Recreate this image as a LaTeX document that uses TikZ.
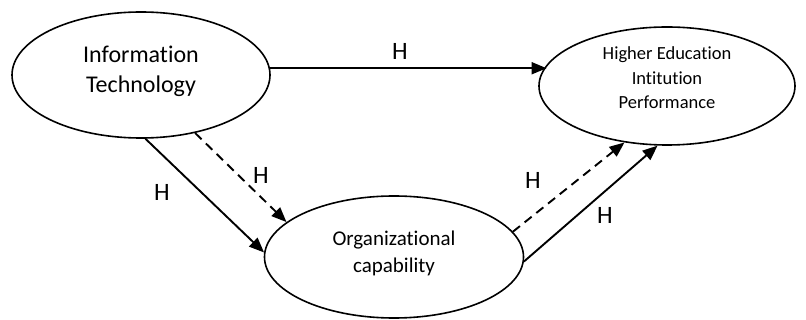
\documentclass[tikz,border=0pt]{standalone}
\usepackage{fontspec}
\setmainfont{Carlito}[Ligatures=NoCommon]
\usetikzlibrary{shapes.geometric,arrows.meta}
\begin{document}
\begin{tikzpicture}[x=1pt,y=-1pt,
  oval/.style={draw,ellipse,line width=1.6pt,inner sep=0pt},
  txt/.style={align=center,inner sep=0pt},
  link/.style={line width=1.9pt,-{Triangle[length=15pt,width=12pt]}},
  dlink/.style={link,dash pattern=on 9pt off 6pt},
  hlab/.style={font=\fontsize{25}{28}\selectfont}]
\useasboundingbox (0,0) rectangle (806,320);
\node[oval,minimum width=258pt,minimum height=126pt] (it) at (141,75) {};
\node[oval,minimum width=256pt,minimum height=118pt] (heip) at (667,86) {};
\node[oval,minimum width=259pt,minimum height=122pt] (oc) at (394,257) {};
\node[txt,font=\fontsize{24}{30}\selectfont] (itx) at (141,71) {Information\\Technology};
\node[txt,font=\fontsize{18.5}{24.5}\selectfont] (heipx) at (667,78) {Higher Education\\Intitution\\Performance};
\node[txt,font=\fontsize{21}{27}\selectfont] (ocx) at (394,253) {Organizational\\capability};
\draw[link] (it.3) -- (it.3 -| heip.170);
\draw[link] (it.-86) -- (oc.178);
\draw[dlink] (it.-47) -- (oc.162);
\draw[dlink] (oc.12) -- (heip.-127);
\draw[link] (oc.-2) -- (heip.-99);
\node[hlab] (h1) at (400,51) {H};
\node[hlab] (h2) at (162,192) {H};
\node[hlab] (h3) at (261,175) {H};
\node[hlab] (h4) at (533,180) {H};
\node[hlab] (h5) at (605,215) {H};
\end{tikzpicture}
\end{document}
